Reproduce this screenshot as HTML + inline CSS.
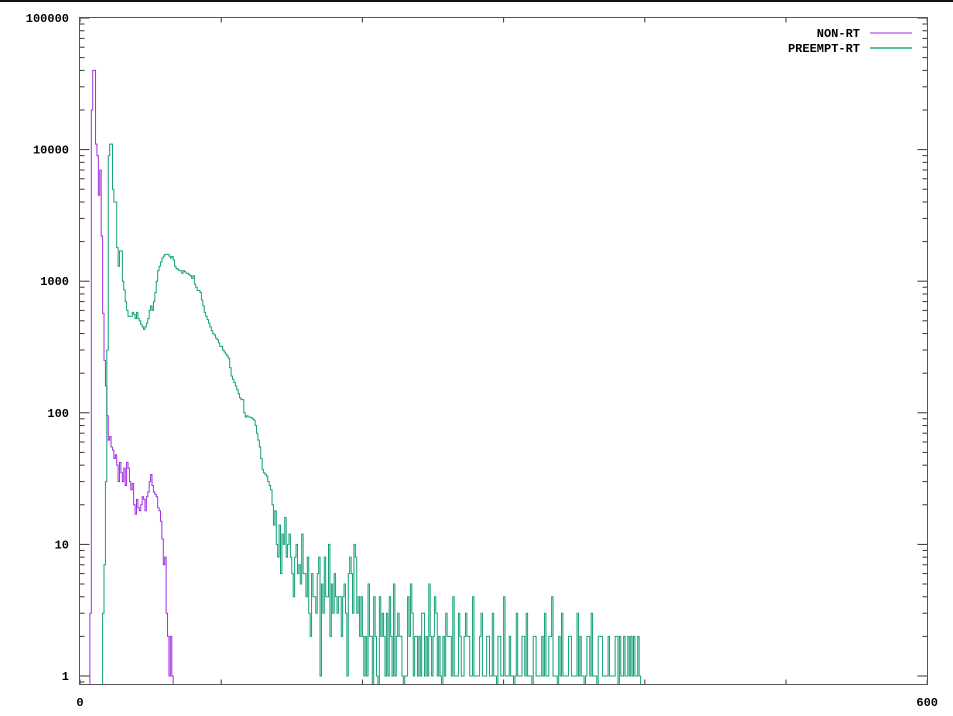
<!DOCTYPE html>
<html><head><meta charset="utf-8">
<style>
html,body{margin:0;padding:0;background:#fff;}
svg{display:block;}
text{font-family:"Liberation Mono",monospace;font-weight:bold;font-size:12px;fill:#000;}
</style></head>
<body>
<svg id="chart" width="953" height="716" viewBox="0 0 953 716" xmlns="http://www.w3.org/2000/svg">
<rect x="0" y="0" width="953" height="2" fill="#111"/>
<defs><clipPath id="plotclip"><rect x="79.5" y="17.5" width="848" height="667"/></clipPath></defs>
<g id="axes"></g>
<g id="series" clip-path="url(#plotclip)"></g>
<rect x="79.5" y="17.5" width="848" height="667" fill="none" stroke="#555" stroke-width="1"/>
<g>
  <text x="860" y="37" text-anchor="end">NON-RT</text>
  <line x1="870" y1="33" x2="912" y2="33" stroke="#c070f0" stroke-width="1.5"/>
  <text x="860" y="52" text-anchor="end">PREEMPT-RT</text>
  <line x1="870" y1="48" x2="912" y2="48" stroke="#20a880" stroke-width="1.5"/>
</g>
</svg>
<script>
const yTickValues = [1, 10, 100, 1000, 10000, 100000];
const yTickLabels = ["1", "10", "100", "1000", "10000", "100000"];
const xTickValues = [0, 100, 200, 300, 400, 500, 600];
const xTickLabels = ["0", "", "", "", "", "", "600"];
const nonRtCounts = [0,0,0,0,0,0,0,3,20000,40000,40000,11000,9000,4500,7000,2200,570,250,160,95,
62,66,55,52,45,48,40,30,42,35,30,38,28,42,38,30,26,29,20,17,
22,19,18,20,23,22,18,23,25,30,34,28,25,24,23,19,18,15,11,7,
8,3,2,1,2,1,0];
const preemptRtCounts = [0,0,0,0,0,0,0,0,0,0,
0,0,0,0,0,0,3,7,30,300,
9000,11000,11000,5000,4000,4000,1800,1300,1700,1700,
1000,860,700,600,540,540,540,580,560,520,
580,520,500,470,450,430,450,480,520,600,
650,600,700,820,1000,1200,1300,1400,1500,1550,
1600,1600,1600,1550,1500,1540,1450,1300,1250,1230,
1200,1200,1150,1200,1180,1150,1150,1120,1100,1050,
1100,950,900,850,850,820,720,650,580,540,
510,480,450,420,400,390,370,360,340,320,
320,300,290,280,270,260,220,190,180,170,
160,150,140,130,126,126,100,93,95,93,
93,92,90,88,80,70,62,55,45,37,
35,34,33,30,28,26,20,14,18,10,
8,14,6,12,10,16,8,10,12,8,
6,4,8,10,6,7,5,12,6,6,
4,8,3,2,6,4,4,3,6,8,
1,5,3,8,4,4,10,2,5,3,
6,4,3,4,4,2,4,5,3,1,
6,8,6,3,10,8,3,4,2,4,
2,1,2,1,5,2,2,0,4,2,
1,0,4,2,3,2,1,3,1,4,
2,1,5,1,2,3,2,2,1,0,
1,1,4,2,5,3,1,2,2,1,
2,1,3,3,1,2,1,5,2,1,
2,4,3,1,2,1,0,2,1,3,
2,2,2,1,4,1,1,1,3,2,
1,1,2,3,2,2,1,1,4,1,
1,1,1,2,3,1,1,1,2,2,
1,1,3,1,1,0,2,2,1,1,
4,1,1,1,2,1,1,0,1,3,
1,1,1,2,2,1,3,1,1,1,
0,2,2,1,1,1,1,2,1,3,
1,1,2,2,4,1,1,1,0,2,
1,3,1,1,1,1,2,2,1,1,
1,1,3,1,2,1,1,0,1,2,
2,1,3,1,1,1,0,2,2,2,
1,1,1,1,2,1,1,1,1,2,
2,0,2,1,1,2,1,1,2,1,
2,1,2,1,1,2,1,0];

const NS = "http://www.w3.org/2000/svg";
const X0 = 80, XS = 1.412;
const Y1 = 676, DEC = 131.6, YBOT = 690;
function xScale(v){ return X0 + XS * v; }
function yScale(v){ return v <= 0 ? YBOT : Y1 - DEC * Math.log10(v); }

const axes = document.getElementById('axes');
function mk(tag, attrs){ const e = document.createElementNS(NS, tag); for (const k in attrs) e.setAttribute(k, attrs[k]); return e; }

yTickValues.forEach((v, i) => {
  const y = yScale(v);
  const t = mk('line', {x1: 79.5, x2: 89.5, y1: y, y2: y, stroke: '#333', 'stroke-width': 1});
  
  
  axes.appendChild(t);
  const t2 = mk('line', {x1: 917.5, x2: 927.5, y1: y, y2: y, stroke: '#333', 'stroke-width': 1});
  
  
  axes.appendChild(t2);
  const lab = mk('text', {x: 69, y: y + 4, 'text-anchor': 'end'});
  lab.textContent = yTickLabels[i];
  
  
  axes.appendChild(lab);
  if (i < yTickValues.length - 1) {
    for (let m = 2; m <= 9; m++) {
      const ym = yScale(v * m);
      const mt = mk('line', {x1: 79.5, x2: 84.5, y1: ym, y2: ym, stroke: '#333', 'stroke-width': 1});
      
      
      axes.appendChild(mt);
      const mt2 = mk('line', {x1: 922.5, x2: 927.5, y1: ym, y2: ym, stroke: '#333', 'stroke-width': 1});
      
      
      axes.appendChild(mt2);
    }
  }
});
[0.9].forEach(v => {
  const ym = yScale(v);
  const mt = mk('line', {x1: 79.5, x2: 84.5, y1: ym, y2: ym, stroke: '#333', 'stroke-width': 1});
  
  
  axes.appendChild(mt);
});

xTickValues.forEach((v, i) => {
  const x = xScale(v);
  const t = mk('line', {x1: x, x2: x, y1: 684.5, y2: 679.5, stroke: '#333', 'stroke-width': 1});
  
  
  axes.appendChild(t);
  const t2 = mk('line', {x1: x, x2: x, y1: 17.5, y2: 22.5, stroke: '#333', 'stroke-width': 1});
  
  
  axes.appendChild(t2);
  if (xTickLabels[i]) {
    const lab = mk('text', {x: x, y: 706, 'text-anchor': 'middle'});
    lab.textContent = xTickLabels[i];
    
    
    axes.appendChild(lab);
  }
});

function stepPath(arr){
  let d = 'M' + xScale(0).toFixed(2) + ' ' + YBOT;
  for (let b = 0; b < arr.length; b++) {
    const y = yScale(arr[b]).toFixed(2);
    d += ' L' + xScale(b).toFixed(2) + ' ' + y + ' L' + xScale(b + 1).toFixed(2) + ' ' + y;
  }
  d += ' L' + xScale(arr.length).toFixed(2) + ' ' + YBOT;
  return d;
}
const series = document.getElementById('series');
const pNon = mk('path', {d: stepPath(nonRtCounts), fill: 'none', stroke: '#a030e0', 'stroke-width': 1, 'stroke-linejoin': 'miter'});


series.appendChild(pNon);
const pRt = mk('path', {d: stepPath(preemptRtCounts), fill: 'none', stroke: '#15a078', 'stroke-width': 1, 'stroke-linejoin': 'miter'});


series.appendChild(pRt);
</script>
</body></html>
